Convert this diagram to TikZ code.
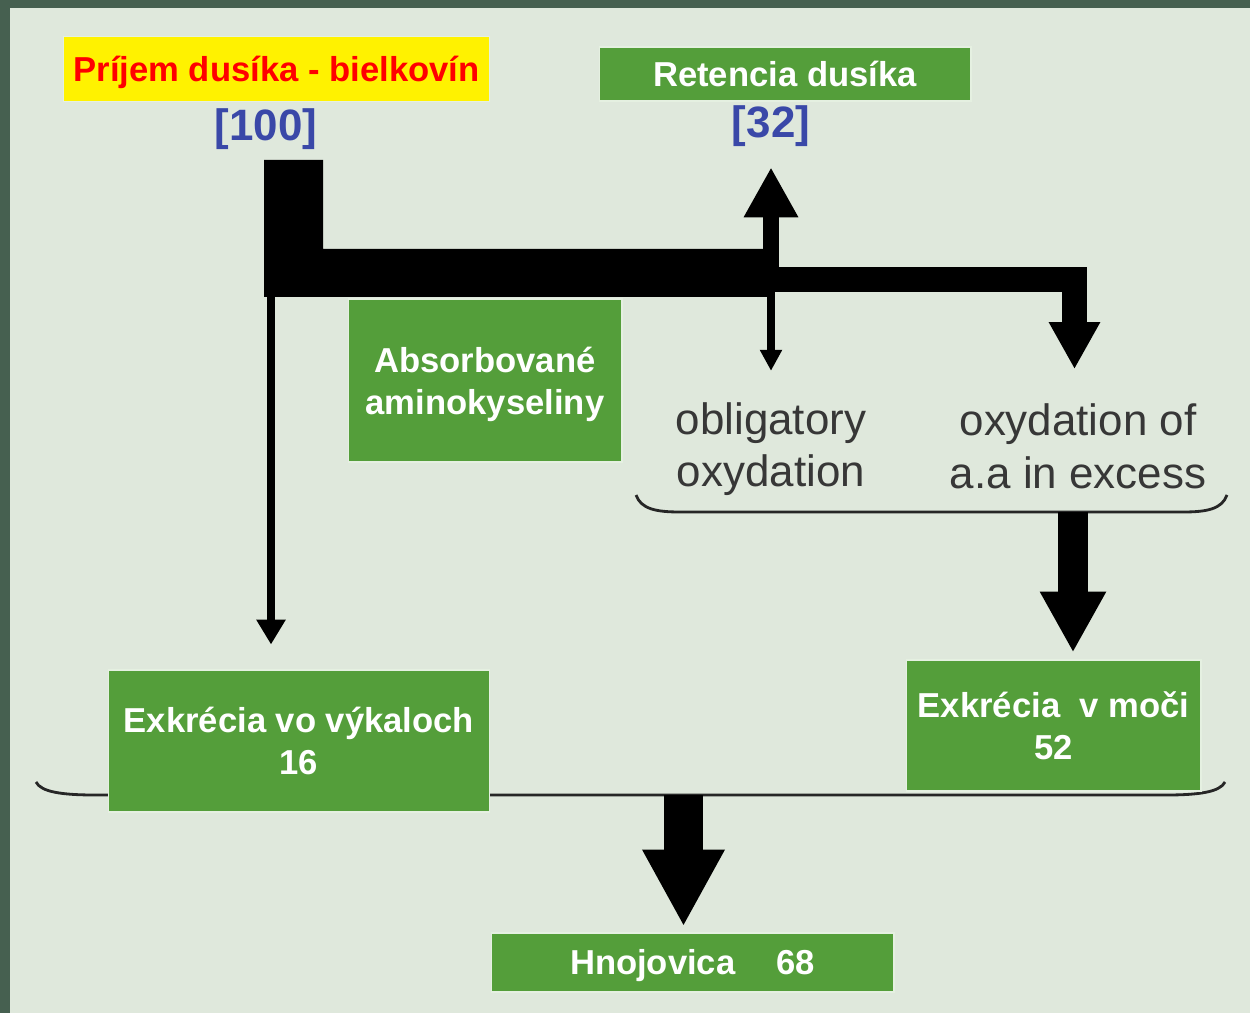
\documentclass[tikz,border=0pt]{standalone}
\usepackage{fontspec}
\setmainfont{Liberation Sans}
\usetikzlibrary{arrows.meta,positioning}
\definecolor{leafgreen}{RGB}{84,158,58}
\definecolor{pagebg}{RGB}{223,232,220}
\definecolor{framegreen}{RGB}{70,96,80}
\definecolor{valblue}{RGB}{58,72,168}
\definecolor{notegray}{RGB}{55,55,55}

\begin{document}
\begin{tikzpicture}[x=0.02cm,y=-0.02cm,
   box/.style={draw=white!85!leafgreen,line width=0.6pt,fill=leafgreen,text=white,inner sep=0pt,
     align=center,font=\fontsize{19.7}{24}\selectfont\bfseries,text height=14.2pt,text depth=0pt},
   twoline/.style={text height=38.6pt,text depth=0pt},
   value/.style={text=valblue,inner sep=0pt,font=\fontsize{25}{30}\selectfont\bfseries},
   note/.style={text=notegray,inner sep=0pt,align=center,font=\fontsize{25}{30}\selectfont},
   brace/.style={draw=black!85,line width=1.6pt}]
   \fill[framegreen] (0,0) rectangle (1250,1013);
   \fill[pagebg] (10,8) rectangle (1250,1013);
   % braces
   \draw[brace] (636,495) .. controls (641,509) and (656,512) .. (680,512) -- (1183,512)
      .. controls (1207,512) and (1222,509) .. (1227,495);
   \draw[brace] (36,782) .. controls (41,792) and (62,795) .. (95,795) -- (1166,795)
      .. controls (1199,795) and (1220,792) .. (1225,782);
   \node[box,fill=yellow,text=red,minimum width=8.54cm,minimum height=1.3cm] (intake) at (276.5,69) {Príjem dusíka - bielkovín};
   \node[value] (val100) at (266,129) {[100]};
   \node[box,minimum width=7.44cm,minimum height=1.08cm] (retention) at (785,74) {Retencia dusíka};
   \node[value] (val32) at (771,126.5) {[32]};
   \node[box,twoline,minimum width=5.48cm,minimum height=3.26cm] (absorbed) at (485,380.5) {Absorbované\\aminokyseliny};
   \node[note] (oblig) at (771,449) {obligatory\\oxydation};
   \node[note] (excess) at (1078,446) {oxydation of\\a.a in excess};
   \node[box,twoline,minimum width=7.64cm,minimum height=2.84cm] (feces) at (299,741) {Exkrécia vo výkaloch\\16};
   \node[box,twoline,minimum width=5.9cm,minimum height=2.62cm] (urine) at (1053.5,725.5) {Exkrécia\ \ v moči\\52};
   \node[box,minimum width=8.06cm,minimum height=1.18cm] (manure) at (692.5,962.5) {Hnojovica\hspace{0.82cm}68};
   \coordinate (split) at (771,279.5);
   \coordinate (turn) at (1074.5,279.5);
   \coordinate (fecesout) at (271,290);
   \coordinate (ox) at (1073,512);
   \coordinate (mix) at (683.5,795);
   \fill (264,160) -- (323,160) -- (323,249) -- (771,249) -- (771,297) -- (264,297) -- cycle;
   \draw[line width=0.32cm,-{Triangle[width=1.02cm,length=1cm]},shorten >=0.4cm] (split) -- (val32);
   \draw[line width=0.16cm,-{Triangle[width=0.42cm,length=0.42cm]},shorten >=0.62cm] (split) -- (oblig.north);
   \draw[line width=0.5cm,-{Triangle[width=0.96cm,length=0.94cm]},shorten >=0.68cm] (split) -- (turn) -- (turn |- excess.north);
   \draw[line width=0.16cm,-{Triangle[width=0.56cm,length=0.5cm]},shorten >=0.5cm] (fecesout) -- (fecesout |- feces.north);
   \draw[line width=0.6cm,-{Triangle[width=1.24cm,length=1.22cm]},shorten >=0.14cm] (ox) -- (ox |- urine.north);
   \draw[line width=0.78cm,-{Triangle[width=1.54cm,length=1.54cm]},shorten >=0.12cm] (mix) -- (mix |- manure.north);
\end{tikzpicture}
\end{document}
